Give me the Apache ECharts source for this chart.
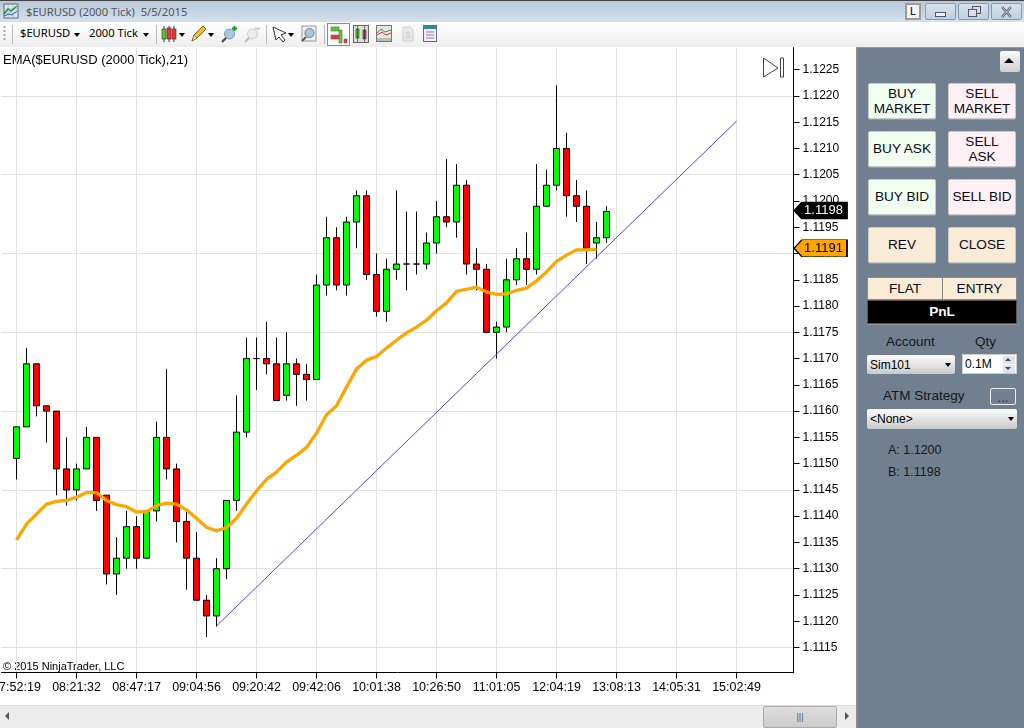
<!DOCTYPE html>
<html><head><meta charset="utf-8"><title>$EURUSD (2000 Tick)</title>
<script src="https://cdn.jsdelivr.net/npm/echarts@6/dist/echarts.min.js"></script>
<style>
html,body{margin:0;padding:0;background:#fff;overflow:hidden}
#win{position:relative;width:1024px;height:728px;overflow:hidden;background:#fff;font-family:"Liberation Sans",Arial,sans-serif;color:#000}
#win div,#win svg{position:absolute;box-sizing:border-box}
#chart{left:0;top:47px;width:856px;height:658px}
#titlebar{left:0;top:0;width:1024px;height:22px;background:linear-gradient(#b9c9d9,#d3e0ee);border-top:1px solid #444}
#toolbar{left:0;top:22px;width:1024px;height:25px;background:linear-gradient(#fefefe,#eeeeee)}
.ttl{left:26px;top:2px;font:11.2px "Noto Sans",sans-serif;color:#555;white-space:pre;line-height:17px}
.wbtn{top:2px;width:31px;height:17px;border:1px solid #8a9bb5;border-radius:2px;background:linear-gradient(#d6e1ed,#c0cfe0)}
.tb{top:2px;font:11.2px "Noto Sans",sans-serif;white-space:pre;line-height:18px;color:#000}
.sep{top:3px;width:1px;height:19px;background:#bbb}
.ar{width:0;height:0;border-left:3.5px solid transparent;border-right:3.5px solid transparent;border-top:4px solid #000;top:11px}
#panel{left:856px;top:47px;width:168px;height:681px;background:#708090;border-left:2px solid #8a8a8a;border-top:1px solid #999}
.btn{width:68px;height:36px;border:1px solid #c9c9c9;border-radius:2px;text-align:center;font-size:13.6px;line-height:15px;display:flex;align-items:center;justify-content:center;box-shadow:0 1px 0 #999 ;color:#0a0a14;padding-bottom:2px}
.two{padding-bottom:0}
.lbl{font-size:13.5px;color:#14181e;white-space:pre;line-height:16px}
.combo{background:linear-gradient(#fdfdfd,#c9c9c9);border-radius:2px;font-size:12px;line-height:21px;padding-left:3px;color:#000}
#hscroll{left:0;top:705px;width:856px;height:23px;background:#ececec;border-top:1px solid #ddd}
</style></head>
<body><div id="win">
<div id="titlebar">
 <svg style="left:3px;top:2px" width="16" height="16" viewBox="0 0 16 16"><rect x="1" y="1" width="14" height="14" fill="#dfe8f2" stroke="#667"/><path d="M1 6H15M1 10H15M5 1V15M10 1V15" stroke="#99a" stroke-width=".5"/><path d="M1 11L5 6L8 8L14 3" fill="none" stroke="#1a9a3a" stroke-width="1.5"/><path d="M1 13L6 11L9 12L14 8" fill="none" stroke="#3060c0"/></svg>
 <div class="ttl">$EURUSD (2000 Tick)  5/5/2015</div>
 <div style="left:905px;top:2px;width:16px;height:17px;border:2px solid #9a9a9a;background:#f2f2f2;font-size:11px;line-height:13px;text-align:center">L</div>
 <div class="wbtn" style="left:925px"><div style="left:9px;top:8px;width:11px;height:5px;border:1px solid #556;background:#eef"></div></div>
 <div class="wbtn" style="left:958px"><div style="left:13px;top:2px;width:9px;height:8px;border:1px solid #556"></div><div style="left:9px;top:5px;width:9px;height:8px;border:1px solid #556;background:#dde"></div></div>
 <div class="wbtn" style="left:991px"><svg style="left:8px;top:2px" width="13" height="12" viewBox="0 0 13 12"><path d="M2 1L11 11M11 1L2 11" stroke="#556" stroke-width="2.4"/><path d="M2 1L11 11M11 1L2 11" stroke="#eef" stroke-width=".8"/></svg></div>
</div>
<div id="toolbar">
 <svg style="left:3px;top:4px" width="3" height="16"><path d="M1.5 0V16" stroke="#aaa" stroke-width="2" stroke-dasharray="2 2"/></svg>
 <div class="sep" style="left:12px"></div>
 <div class="tb" style="left:20px">$EURUSD</div><div class="ar" style="left:74px"></div>
 <div class="tb" style="left:89px">2000 Tick</div><div class="ar" style="left:143px"></div>
 <div class="sep" style="left:156px"></div>
 <svg style="left:161px;top:3px" width="16" height="18"><path d="M3 1V17M8 1V17M13 1V17" stroke="#333"/><rect x="1" y="4" width="4" height="10" fill="#5c2" stroke="#333" stroke-width=".6"/><rect x="6" y="3" width="4" height="11" fill="#e33" stroke="#333" stroke-width=".6"/><rect x="11" y="4" width="4" height="10" fill="#e33" stroke="#333" stroke-width=".6"/></svg><div class="ar" style="left:179px"></div>
 <svg style="left:190px;top:3px" width="17" height="18"><path d="M2 16L4 10L13 1L16 4L7 13Z" fill="#f0c030" stroke="#776020"/><path d="M2 16L4 10L7 13Z" fill="#f4e0b0" stroke="#776020" stroke-width=".6"/></svg><div class="ar" style="left:208px"></div>
 <svg style="left:219px;top:2px" width="18" height="20"><path d="M3 18L8 13" stroke="#444" stroke-width="2"/><circle cx="10.5" cy="10" r="5" fill="#a8c8e8" stroke="#8898a8"/><path d="M13 4.5H18M15.5 2V7" stroke="#1a9a1a" stroke-width="2"/></svg>
 <svg style="left:242px;top:2px" width="18" height="20" opacity=".45"><path d="M3 18L8 13" stroke="#777" stroke-width="2"/><circle cx="10.5" cy="10" r="5" fill="#ddd" stroke="#999"/><path d="M13 4.5H18" stroke="#999" stroke-width="2"/></svg>
 <div class="sep" style="left:266px"></div>
 <svg style="left:272px;top:4px" width="16" height="17"><path d="M1 1L14 7L9 9L13 14L11 16L7 11L4 14Z" fill="#fff" stroke="#333"/></svg><div class="ar" style="left:288px"></div>
 <svg style="left:301px;top:3px" width="16" height="18"><rect x="1" y="1" width="14" height="15" fill="#f0f0f0" stroke="#999"/><circle cx="8.5" cy="8" r="4.5" fill="#a8c8e8" stroke="#778"/><path d="M1 16L5 12" stroke="#555" stroke-width="2"/></svg>
 <div class="sep" style="left:324px"></div>
 <div style="left:327px;top:1px;width:23px;height:23px;border:1px solid #4d9be8;background:#fafafa"></div>
 <svg style="left:330px;top:3px" width="18" height="19"><rect x="1" y="2" width="8" height="4" fill="#5c2" stroke="#666" stroke-width=".6"/><rect x="1" y="10" width="8" height="4" fill="#e33" stroke="#666" stroke-width=".6"/><rect x="9" y="5" width="3" height="13" fill="#5c2" stroke="#666" stroke-width=".6"/><rect x="14" y="14" width="3" height="4" fill="#e33" stroke="#666" stroke-width=".6"/></svg>
 <svg style="left:353px;top:3px" width="16" height="18"><rect x=".5" y=".5" width="15" height="17" fill="#ddd" stroke="#666"/><rect x="3" y="4" width="3" height="9" fill="#5c2" stroke="#333" stroke-width=".6"/><rect x="10" y="5" width="3" height="9" fill="#e33" stroke="#333" stroke-width=".6"/><path d="M4.500 1V17M11.500 1V17" stroke="#333" stroke-width=".6"/></svg>
 <svg style="left:376px;top:3px" width="16" height="18"><rect x=".5" y=".5" width="15" height="16" fill="#e6e6e6" stroke="#777"/><path d="M1 8L5 4L9 7L15 5" fill="none" stroke="#2a2" /><path d="M1 10L6 7L10 10L15 8" fill="none" stroke="#d33"/><rect x="1" y="13" width="14" height="3" fill="#bbb"/></svg>
 <svg style="left:402px;top:4px" width="12" height="16" opacity=".5"><path d="M1 1H8L11 4V15H1Z" fill="#ddd" stroke="#aaa"/><text x="6" y="12" font-size="9" text-anchor="middle" fill="#aaa" font-family="Liberation Sans">$</text></svg>
 <svg style="left:423px;top:3px" width="14" height="18"><rect x=".5" y=".5" width="13" height="16" fill="#eef" stroke="#667"/><rect x="1" y="1" width="12" height="3" fill="#38a"/><path d="M3 7H11M3 10H11M3 13H11" stroke="#97b"/></svg>
</div>
<div id="chart"></div>
<div id="hscroll">
 <div style="left:5px;top:6px;width:0;height:0;border-top:4px solid transparent;border-bottom:4px solid transparent;border-right:4px solid #555"></div>
 <div style="left:763px;top:0;width:74px;height:22px;background:linear-gradient(#dedede,#cccccc);border:1px solid #aaa;border-radius:2px;text-align:center;font-size:9px;line-height:20px;color:#555">|||</div>
 <div style="left:845px;top:6px;width:0;height:0;border-top:4px solid transparent;border-bottom:4px solid transparent;border-left:4px solid #555"></div>
</div>
<div id="panel">
 <div style="left:142px;top:3px;width:20px;height:21px;background:linear-gradient(#fafafa,#cfcfcf);border-radius:2px"><div style="left:4px;top:7px;width:0;height:0;border-left:5px solid transparent;border-right:5px solid transparent;border-bottom:5px solid #000"></div></div>
 <div class="btn two" style="left:10px;top:35px;background:#f0fff0">BUY<br>MARKET</div>
 <div class="btn two" style="left:90px;top:35px;background:#fff0f5">SELL<br>MARKET</div>
 <div class="btn" style="left:10px;top:83px;background:#f0fff0">BUY ASK</div>
 <div class="btn two" style="left:90px;top:83px;background:#fff0f5">SELL<br>ASK</div>
 <div class="btn" style="left:10px;top:131px;background:#f0fff0">BUY BID</div>
 <div class="btn" style="left:90px;top:131px;background:#fff0f5">SELL BID</div>
 <div class="btn" style="left:10px;top:179px;background:#faebd7">REV</div>
 <div class="btn" style="left:90px;top:179px;background:#faebd7">CLOSE</div>
 <div class="btn two" style="left:9px;top:229px;width:76px;height:23px;background:#faebd7;border:1px solid #8a8a8a;border-radius:0">FLAT</div>
 <div class="btn two" style="left:84px;top:229px;width:75px;height:23px;background:#faebd7;border:1px solid #8a8a8a;border-radius:0">ENTRY</div>
 <div class="btn" style="left:9px;top:252px;width:150px;height:24px;background:#000;border:1px solid #555;border-radius:0;color:#fff;font-weight:bold">PnL</div>
 <div class="lbl" style="left:28px;top:286px">Account</div>
 <div class="lbl" style="left:117px;top:286px">Qty</div>
 <div class="combo" style="left:9px;top:307px;width:88px;height:19px">Sim101<div class="ar" style="left:78px;top:8px"></div></div>
 <div style="left:104px;top:306px;width:55px;height:20px;background:#fff;border:1px solid #ccc;font-size:12px;line-height:18px;padding-left:2px">0.1M
   <div style="left:40px;top:1px;width:12px;height:8px;background:#dde4ee"><div style="left:2px;top:2px;width:0;height:0;border-left:3px solid transparent;border-right:3px solid transparent;border-bottom:3px solid #446"></div></div>
   <div style="left:40px;top:10px;width:12px;height:8px;background:#dde4ee"><div style="left:2px;top:2px;width:0;height:0;border-left:3px solid transparent;border-right:3px solid transparent;border-top:3px solid #446"></div></div>
 </div>
 <div class="lbl" style="left:25px;top:340px">ATM Strategy</div>
 <div style="left:132px;top:340px;width:26px;height:17px;border:1px solid #eee;border-radius:2px;font-size:13px;line-height:17px;text-align:center;color:#222">...</div>
 <div class="combo" style="left:9px;top:361px;width:150px;height:20px">&lt;None&gt;<div class="ar" style="left:141px;top:8px"></div></div>
 <div class="lbl" style="left:30px;top:394px;font-size:12.5px">A: 1.1200</div>
 <div class="lbl" style="left:30px;top:416px;font-size:12.5px">B: 1.1198</div>
</div>
</div>
<script>
// Candle values
var opens  = [1.1151,1.1157,1.1169,1.1161,1.1160,1.1149,1.1145,1.1149,1.1155,1.1144,1.1129,1.1132,1.1138,1.1132,1.1141,1.1155,1.1149,1.1139,1.1132,1.1124,1.1121,1.1130,1.1143,1.1156,1.1170,1.1170,1.1169,1.1163,1.1169,1.1167,1.1166,1.1184,1.1193,1.1184,1.1196,1.1201,1.1186,1.1179,1.1187,1.1188,1.1188,1.1188,1.1192,1.1197,1.1196,1.1203,1.1188,1.1187,1.1175,1.1176,1.1185,1.1189,1.1187,1.1199,1.1203,1.1210,1.1201,1.1199,1.1192,1.1193];
var closes = [1.1157,1.1169,1.1161,1.1160,1.1149,1.1145,1.1149,1.1155,1.1143,1.1129,1.1132,1.1138,1.1132,1.1141,1.1155,1.1149,1.1139,1.1132,1.1124,1.1121,1.1130,1.1143,1.1156,1.1170,1.1170,1.1169,1.1162,1.1169,1.1167,1.1166,1.1184,1.1193,1.1184,1.1196,1.1201,1.1186,1.1179,1.1187,1.1188,1.1188,1.1188,1.1192,1.1197,1.1196,1.1203,1.1188,1.1187,1.1175,1.1176,1.1185,1.1189,1.1187,1.1199,1.1203,1.1210,1.1201,1.1199,1.1191,1.1193,1.1198];
var lows   = [1.1147,1.1157,1.1159,1.1154,1.1144,1.1142,1.1143,1.1149,1.1141,1.1127,1.1125,1.1130,1.1130,1.1132,1.1139,1.1147,1.1135,1.1126,1.1124,1.1117,1.1119,1.1128,1.1141,1.1155,1.1164,1.1167,1.1162,1.1162,1.1161,1.1162,1.1166,1.1182,1.1183,1.1182,1.1191,1.1185,1.1178,1.1177,1.1185,1.1183,1.1186,1.1187,1.1190,1.1195,1.1193,1.1186,1.1183,1.1175,1.1170,1.1175,1.1184,1.1184,1.1186,1.1199,1.1202,1.1197,1.1196,1.1188,1.1189,1.1192];
var highs  = [1.1157,1.1172,1.1169,1.1161,1.1160,1.1155,1.1150,1.1157,1.1155,1.1144,1.1136,1.1141,1.1140,1.1141,1.1158,1.1168,1.1150,1.1141,1.1137,1.1125,1.1132,1.1143,1.1163,1.1174,1.1174,1.1177,1.1174,1.1175,1.1170,1.1169,1.1186,1.1197,1.1195,1.1197,1.1202,1.1202,1.1190,1.1189,1.1202,1.1198,1.1198,1.1194,1.1200,1.1208,1.1207,1.1204,1.1191,1.1188,1.1177,1.1189,1.1191,1.1194,1.1207,1.1206,1.1222,1.1213,1.1204,1.1202,1.1196,1.1199];
var ema    = [1.11355,1.11385,1.11404,1.11423,1.11428,1.11430,1.11436,1.11445,1.11445,1.11430,1.11422,1.11418,1.11408,1.11408,1.11420,1.11425,1.11423,1.11412,1.11396,1.11379,1.11372,1.11378,1.11396,1.11423,1.11448,1.11470,1.11484,1.11503,1.11516,1.11531,1.11558,1.11593,1.11610,1.11646,1.11680,1.11697,1.11704,1.11720,1.11735,1.11749,1.11760,1.11773,1.11791,1.11806,1.11828,1.11832,1.11836,1.11827,1.11822,1.11823,1.11830,1.11834,1.11848,1.11865,1.11885,1.11897,1.11907,1.11907,1.11908];
var trendLine = [[20,1.11191],[72,1.12152]];
var timeLabels = ['07:52:19','08:21:32','08:47:17','09:04:56','09:20:42','09:42:06','10:01:38','10:26:50','11:01:05','12:04:19','13:08:13','14:05:31','15:02:49'];
var timeTickIndex = [0,6,12,18,24,30,36,42,48,54,60,66,72];
var priceTicks = [1.1115,1.1120,1.1125,1.1130,1.1135,1.1140,1.1145,1.1150,1.1155,1.1160,1.1165,1.1170,1.1175,1.1180,1.1185,1.1190,1.1195,1.1200,1.1205,1.1210,1.1215,1.1220,1.1225];
var priceGrid = [1.1115,1.1130,1.1145,1.1160,1.1175,1.1190,1.1205,1.1220];
var lastPrice = 1.1198, emaPrice = 1.1191;
var emaLabel = 'EMA($EURUSD (2000 Tick),21)', copyright = '\u00a9 2015 NinjaTrader, LLC';

var xMin = -1.5, xMax = 77.7, yMin = 1.111024, yMax = 1.122922;
var candles = opens.map(function(o,i){ return [i,o,closes[i],lows[i],highs[i]]; });
var tagPath = 'path://M0 8.5L8 0L53 0L53 17L8 17Z';
function tag(value, fill, stroke, text, dy){
  return {coord:[xMax,value], symbol:tagPath, symbolSize:[53,17], symbolOffset:[27,dy],
    itemStyle:{color:fill,borderColor:stroke,borderWidth:1},
    label:{show:true,position:'inside',formatter:value.toFixed(4),color:text,fontSize:13,fontFamily:'Liberation Sans',offset:[3,0]}};
}
var chart = echarts.init(document.getElementById('chart'), null, {width:856,height:658});
chart.setOption({
  animation:false, backgroundColor:'transparent',
  grid:{left:1.5,top:0.5,width:792,height:625,containLabel:false,outerBoundsMode:'none'},
  xAxis:{type:'value',min:xMin,max:xMax,containShape:false,
    axisLine:{show:true,onZero:false,lineStyle:{color:'#000',width:1}},
    axisTick:{show:true,length:6,lineStyle:{color:'#000'},customValues:timeTickIndex},
    axisLabel:{show:true,customValues:timeTickIndex,margin:9,color:'#000',fontSize:12.5,fontFamily:'Liberation Sans',
      formatter:function(v){ return timeLabels[timeTickIndex.indexOf(Math.round(v))]; }},
    splitLine:{show:true,lineStyle:{color:'#e2e2e2',width:1}}},
  yAxis:[
    {type:'value',position:'right',min:yMin,max:yMax,scale:true,
      axisLine:{show:true,onZero:false,lineStyle:{color:'#000',width:1}},
      axisTick:{show:true,length:6,lineStyle:{color:'#000'},customValues:priceTicks},
      axisLabel:{show:true,customValues:priceTicks,margin:9,color:'#000',fontSize:12,fontFamily:'Liberation Sans',padding:[2,0,0,0],
        formatter:function(v){ return v.toFixed(4); }},
      splitLine:{show:false}},
    {type:'value',position:'right',min:yMin,max:yMax,scale:true,
      axisLine:{show:false},axisLabel:{show:false},
      axisTick:{show:false,customValues:priceGrid},
      splitLine:{show:true,lineStyle:{color:'#e2e2e2',width:1}}}
  ],
  graphic:[
    {type:'text',left:3,top:7,silent:true,style:{text:emaLabel,fill:'#000',font:'13px "Liberation Sans"'}},
    {type:'text',left:3,top:614,silent:true,style:{text:copyright,fill:'#000',font:'11px "Liberation Sans"'}},
    {type:'polygon',silent:true,shape:{points:[[763.5,11],[778,21],[763.5,30]]},style:{fill:'#fff',stroke:'#444'}},
    {type:'rect',silent:true,shape:{x:780.5,y:11,width:3,height:19},style:{fill:'#fff',stroke:'#444'}}
  ],
  series:[
    {type:'candlestick',name:'$EURUSD',xAxisIndex:0,yAxisIndex:0,data:candles,encode:{x:0,y:[1,2,3,4]},barWidth:6,
      itemStyle:{color:'#00ff00',color0:'#ff0000',borderColor:'#000',borderColor0:'#000',borderColorDoji:'#000',borderWidth:1},silent:true,z:3},
    {type:'line',name:'Trend',data:trendLine,symbol:'none',lineStyle:{color:'#4646ff',width:1},silent:true,z:4},
    {type:'line',name:'EMA',data:ema.map(function(v,i){return [i,v];}),symbol:'none',smooth:false,
      lineStyle:{color:'#ffa500',width:3.3},silent:true,z:5,
      markPoint:{silent:true,animation:false,data:[tag(lastPrice,'#000','#000','#fff',-1),tag(emaPrice,'#ffa500','#000','#000',0)]}}
  ]
});
</script>
</body></html>
